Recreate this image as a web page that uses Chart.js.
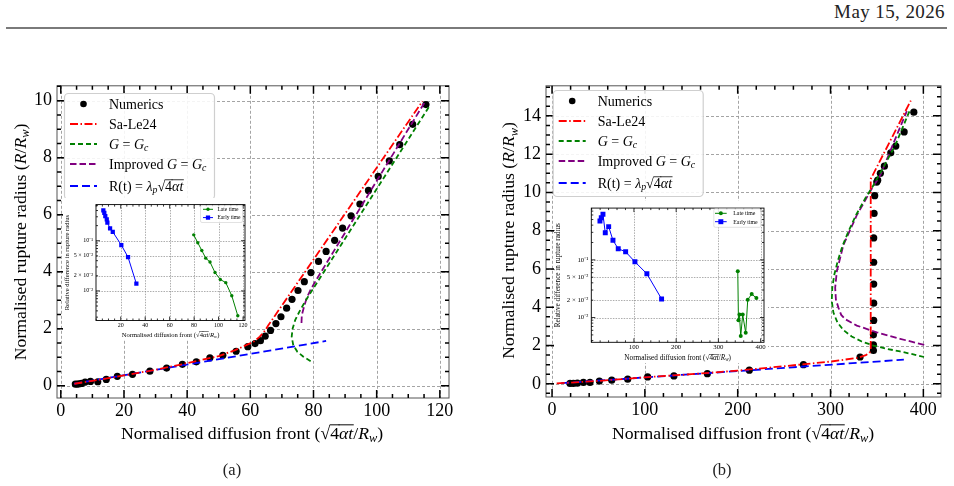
<!DOCTYPE html>
<html>
<head>
<meta charset="utf-8">
<script src="https://cdn.jsdelivr.net/npm/chart.js@4.4.1/dist/chart.umd.min.js"></script>
<style>
  body { margin: 0; background: #fff; width: 954px; height: 486px; position: relative; overflow: hidden; font-family: "Liberation Serif", serif; }
  canvas { position: absolute; }
  #hdr { position: absolute; right: 9px; top: 2px; font-size: 19px; line-height: 19px; letter-spacing: 0.4px; color: #222; }
  #rule { position: absolute; left: 6px; top: 27px; width: 941px; height: 1.5px; background: #7a7a7a; }
  .cap { position: absolute; top: 460px; font-size: 16.5px; color: #222; transform: translateX(-50%); }
  .inset { background: #fff; }
</style>
</head>
<body>
<div id="hdr">May 15, 2026</div>
<div id="rule"></div>
<canvas id="mainA" width="475" height="400" style="left:0;top:70px"></canvas>
<canvas id="mainB" width="474" height="400" style="left:480px;top:70px"></canvas>
<canvas id="insetA" class="inset" width="187" height="142" style="left:63px;top:198px"></canvas>
<canvas id="insetB" class="inset" width="214" height="162" style="left:554px;top:201px"></canvas>
<div class="cap" style="left:232px">(a)</div>
<div class="cap" style="left:722px">(b)</div>

<script>
// ---------- panel (a) ----------
var aNumX = [4.6, 5.3, 5.9, 6.6, 7.7, 9.4, 11.7, 14.4, 17.9, 22.7, 28.2, 33.5, 38.5, 42.9, 47.2, 51.3, 55.5, 59.2, 61.5, 63.2, 64.7, 66.4, 68.1, 69.7, 71.5, 73.2, 75.1, 77.1, 79.2, 81.6, 84.0, 86.7, 89.2, 91.9, 94.7, 97.4, 100.5, 104.0, 107.3, 111.4, 115.6];
var aNumY = [0.06, 0.06, 0.07, 0.08, 0.13, 0.15, 0.14, 0.22, 0.33, 0.40, 0.51, 0.62, 0.75, 0.84, 0.98, 1.07, 1.21, 1.37, 1.48, 1.58, 1.74, 1.94, 2.18, 2.42, 2.72, 3.03, 3.34, 3.65, 3.97, 4.36, 4.71, 5.10, 5.53, 5.96, 6.37, 6.85, 7.34, 7.89, 8.46, 9.17, 9.86];
var aSaleX = [4.3, 10, 20, 30, 40, 50, 55, 58, 61, 63, 64.6, 65.7, 114.5];
var aSaleY = [0.07, 0.17, 0.36, 0.56, 0.79, 1.04, 1.24, 1.39, 1.54, 1.72, 1.93, 2.12, 9.98];
var aGcX = [79.1, 76.8, 74.9, 73.6, 73.1, 73.4, 74.2, 75.5, 77.1, 78.9, 80.8, 116.8];
var aGcY = [0.86, 1.02, 1.19, 1.42, 1.72, 2.01, 2.30, 2.59, 2.91, 3.23, 3.56, 9.82];
var aImpX = [76.2, 76.3, 77.0, 77.8, 79.1, 80.8, 115.2];
var aImpY = [2.20, 2.47, 2.77, 3.06, 3.37, 3.70, 9.94];
var aLamX = [4.2, 84];
var aLamY = [0.07, 1.57];
var aXTicks = [0, 20, 40, 60, 80, 100, 120];
var aYTicks = [0, 2, 4, 6, 8, 10];

// inset (a): relative difference
var aEarlyX = [5.8, 6.6, 7.4, 8.6, 9.1, 11.3, 13.5, 20.5, 26.0, 32.8];
var aEarlyY = [0.405, 0.359, 0.309, 0.266, 0.229, 0.177, 0.150, 0.082, 0.047, 0.0139];
var aLateX = [79.7, 83.0, 86.3, 89.5, 93.0, 97.1, 101.4, 105.9, 110.8, 115.7];
var aLateY = [0.131, 0.0914, 0.0637, 0.045, 0.0376, 0.0232, 0.0169, 0.0146, 0.0080, 0.0032];
var aInXTicks = [20, 40, 60, 80, 100, 120];

// ---------- panel (b) ----------
var bNumX = [19.4, 23, 27.3, 33.8, 40.9, 51, 64.3, 81.5, 103, 131.3, 167.3, 212.5, 270.8, 331.8, 346.2, 346.2, 346.2, 346.5, 346.5, 346.5, 346.5, 346.5, 346.9, 347.6, 349.8, 350.8, 353.7, 358.0, 364.9, 370.3, 379.3, 389.7];
var bNumY = [0.02, 0.02, 0.03, 0.07, 0.07, 0.14, 0.19, 0.24, 0.36, 0.41, 0.53, 0.71, 1.00, 1.40, 1.74, 2.04, 2.56, 3.31, 4.21, 5.21, 6.35, 7.62, 8.90, 9.83, 10.54, 10.64, 11.0, 11.37, 12.07, 12.42, 13.16, 14.19];
var bSaleX = [5, 50, 100, 150, 200, 250, 300, 330, 338, 342, 343.3, 343.3, 386.5];
var bSaleY = [0.02, 0.15, 0.34, 0.5, 0.69, 0.92, 1.16, 1.36, 1.5, 1.62, 1.8, 10.7, 14.8];
var bGcX = [400.7, 389.2, 374.9, 360.5, 346.1, 333.6, 322.8, 313.8, 307.4, 303.1, 301.3, 301.9, 304.1, 307.7, 312.7, 319.2, 327.5, 337.2, 346.2, 356.9, 369.5, 385.5];
var bGcY = [1.40, 1.54, 1.69, 1.83, 2.0, 2.21, 2.47, 2.81, 3.21, 3.72, 4.33, 5.02, 5.71, 6.40, 7.18, 7.95, 8.82, 9.67, 10.37, 11.31, 12.44, 14.3];
var bImpX = [400.9, 375, 349.8, 328.3, 315.7, 311.5, 308.5, 305.8, 305, 306.8, 313.9, 328.3, 344.4, 353.4, 382.2];
var bImpY = [2.03, 2.35, 2.69, 3.04, 3.38, 3.6, 3.98, 4.4, 5.02, 5.88, 7.26, 8.81, 10.19, 10.88, 14.25];
var bLamX = [10, 379];
var bLamY = [0.033, 1.26];
var bXTicks = [0, 100, 200, 300, 400];
var bYTicks = [0, 2, 4, 6, 8, 10, 12, 14];

// inset (b)
var bEarlyX = [19.6, 22.7, 26.7, 32.2, 40.2, 50.4, 62.9, 80.4, 102.4, 130.7, 165.5];
var bEarlyY = [0.471, 0.536, 0.619, 0.294, 0.377, 0.218, 0.156, 0.138, 0.0925, 0.0573, 0.021];
var bLateX = [345.9, 347.5, 349.9, 352.9, 357.6, 364.7, 369.5, 378.9, 390.0];
var bLateY = [0.0634, 0.0090, 0.01125, 0.00476, 0.01125, 0.00542, 0.0204, 0.0255, 0.0218];
var bInXTicks = [100, 200, 300, 400];

// shared log ticks of the insets
var inYTicks = [0.01, 0.02, 0.05, 0.1];
var inYLabels = ['10⁻²', '2 × 10⁻²', '5 × 10⁻²', '10⁻¹'];

// labels (rich text pieces)
var seriesLabels = [
  [{t: 'Numerics'}],
  [{t: 'Sa-Le24'}],
  [{t: 'G', it: 1}, {t: ' = '}, {t: 'G', it: 1}, {t: 'c', it: 1, sub: 1}],
  [{t: 'Improved '}, {t: 'G', it: 1}, {t: ' = '}, {t: 'G', it: 1}, {t: 'c', it: 1, sub: 1}],
  [{t: 'R(t) = '}, {t: 'λ', it: 1}, {t: 'p', it: 1, sub: 1}, {t: '√'}, {t: '4', ol: 1}, {t: 'αt', it: 1, ol: 1}]
];
var xTitle = [{t: 'Normalised diffusion front ('}, {t: '√'}, {t: '4', ol: 1}, {t: 'αt', it: 1, ol: 1}, {t: '/'}, {t: 'R', it: 1}, {t: 'w', it: 1, sub: 1}, {t: ')'}];
var yTitle = [{t: 'Normalised rupture radius ('}, {t: 'R', it: 1}, {t: '/'}, {t: 'R', it: 1}, {t: 'w', it: 1, sub: 1}, {t: ')'}];
var inYTitle = [{t: 'Relative difference in rupture radius'}];
var inLabels = ['Late time', 'Early time'];

var FONT = '"Liberation Serif", "Times New Roman", serif';
var RED = '#ff0000', GREEN = '#008000', PURPLE = '#800080', BLUE = '#0000ff';
var styles = [
  {color: '#000', dot: true},
  {color: RED, dash: [8, 2.5, 1.5, 2.5]},
  {color: GREEN, dash: [5, 3]},
  {color: PURPLE, dash: [6.5, 3]},
  {color: BLUE, dash: [8, 4]}
];

function pts(xs, ys) {
  return xs.map(function (x, i) { return {x: x, y: ys[i]}; });
}

// rich text: italics, subscripts, overline for square roots
function drawRich(ctx, segs, x, y, size, align) {
  var parts = [], w = 0;
  segs.forEach(function (s) {
    var fs = s.sub ? size * 0.7 : size;
    ctx.font = (s.it ? 'italic ' : '') + fs + 'px ' + FONT;
    var m = ctx.measureText(s.t).width;
    parts.push({s: s, fs: fs, m: m});
    w += m;
  });
  var cx = align === 'center' ? x - w / 2 : (align === 'right' ? x - w : x);
  ctx.textAlign = 'left';
  ctx.textBaseline = 'alphabetic';
  parts.forEach(function (p) {
    ctx.font = (p.s.it ? 'italic ' : '') + p.fs + 'px ' + FONT;
    ctx.fillText(p.s.t, cx, y + (p.s.sub ? size * 0.2 : 0));
    if (p.s.ol) ctx.fillRect(cx - 0.5, y - size * 0.8, p.m + 1, Math.max(0.5, size * 0.055));
    cx += p.m;
  });
}

function minorValues(min, max, step) {
  var out = [];
  for (var n = Math.ceil(min / step - 1e-9); n * step <= max + 1e-9; n++) out.push(n * step);
  return out;
}

function isMajor(v, majors) {
  return majors.some(function (m) { return Math.abs(m - v) < 1e-9 * Math.max(1, Math.abs(m)); });
}

// grid, frame, inward ticks, legend and axis titles
function framePlugin(cfg) {
  return {
    id: 'frame',
    beforeDatasetsDraw: function (chart) {
      var ctx = chart.ctx, a = chart.chartArea, x = chart.scales.x, y = chart.scales.y;
      ctx.save();
      ctx.strokeStyle = cfg.gridColor;
      ctx.lineWidth = cfg.gridWidth;
      ctx.setLineDash(cfg.gridDash);
      cfg.xGrid.forEach(function (v) {
        var px = Math.round(x.getPixelForValue(v)) + 0.5;
        ctx.beginPath(); ctx.moveTo(px, a.top); ctx.lineTo(px, a.bottom); ctx.stroke();
      });
      cfg.yGrid.forEach(function (v) {
        var py = Math.round(y.getPixelForValue(v)) + 0.5;
        ctx.beginPath(); ctx.moveTo(a.left, py); ctx.lineTo(a.right, py); ctx.stroke();
      });
      ctx.restore();
    },
    afterDatasetsDraw: function (chart) {
      var ctx = chart.ctx, a = chart.chartArea, x = chart.scales.x, y = chart.scales.y;
      ctx.save();
      ctx.strokeStyle = cfg.frameColor;
      ctx.lineWidth = cfg.frameWidth;
      ctx.strokeRect(a.left, a.top, a.right - a.left, a.bottom - a.top);
      ctx.strokeStyle = '#000';
      ctx.lineWidth = cfg.tickWidth;
      minorValues(x.min, x.max, cfg.xMinor).forEach(function (v) {
        var len = isMajor(v, cfg.xMajor) ? cfg.majLen : cfg.minLen;
        var px = x.getPixelForValue(v);
        ctx.beginPath();
        ctx.moveTo(px, a.bottom); ctx.lineTo(px, a.bottom - len);
        ctx.moveTo(px, a.top); ctx.lineTo(px, a.top + len);
        ctx.stroke();
      });
      var yv;
      if (cfg.yLog) {
        yv = [];
        for (var k = -4; k <= 0; k++) for (var m = 1; m <= 9; m++) {
          var v = m * Math.pow(10, k);
          if (v >= y.min && v <= y.max) yv.push({v: v, major: m === 1});
        }
      } else {
        yv = minorValues(y.min, y.max, cfg.yMinor).map(function (v) { return {v: v, major: isMajor(v, cfg.yMajor)}; });
      }
      yv.forEach(function (o) {
        var len = o.major ? cfg.majLen : cfg.minLen;
        var py = y.getPixelForValue(o.v);
        ctx.beginPath();
        ctx.moveTo(a.left, py); ctx.lineTo(a.left + len, py);
        ctx.moveTo(a.right, py); ctx.lineTo(a.right - len, py);
        ctx.stroke();
      });
      ctx.restore();
    },
    afterDraw: function (chart) {
      var ctx = chart.ctx, a = chart.chartArea;
      ctx.save();
      ctx.fillStyle = '#000';
      // axis titles
      drawRich(ctx, cfg.xTitle, (a.left + a.right) / 2 + cfg.xTitleDx, cfg.xTitleY, cfg.titleSize, 'center');
      ctx.save();
      ctx.translate(cfg.yTitleX, (a.top + a.bottom) / 2 + cfg.yTitleDy);
      ctx.rotate(-Math.PI / 2);
      drawRich(ctx, cfg.yTitle, 0, 0, cfg.yTitleSize || cfg.titleSize, 'center');
      ctx.restore();
      // legend
      var lg = cfg.legend;
      ctx.beginPath();
      ctx.roundRect(lg.x + 0.5, lg.y + 0.5, lg.w, lg.h, lg.r);
      ctx.fillStyle = 'rgba(255,255,255,0.88)';
      ctx.fill();
      ctx.strokeStyle = '#cfcfcf';
      ctx.lineWidth = lg.lw;
      ctx.stroke();
      lg.items.forEach(function (it, i) {
        var yy = lg.y + lg.rows[i];
        ctx.strokeStyle = it.color;
        ctx.fillStyle = it.color;
        if (it.dash || it.line) {
          ctx.lineWidth = lg.lineW;
          ctx.setLineDash(it.dash || []);
          ctx.beginPath(); ctx.moveTo(lg.x + lg.s0, yy); ctx.lineTo(lg.x + lg.s1, yy); ctx.stroke();
          ctx.setLineDash([]);
        }
        var mx = lg.x + (lg.s0 + lg.s1) / 2;
        if (it.dot) {
          ctx.beginPath(); ctx.arc(mx, yy, lg.dotR, 0, Math.PI * 2); ctx.fill();
        }
        if (it.square) {
          ctx.fillRect(mx - lg.sq / 2, yy - lg.sq / 2, lg.sq, lg.sq);
        }
        ctx.fillStyle = '#000';
        drawRich(ctx, it.text, lg.x + lg.tx, yy + lg.size * 0.33, lg.size, 'left');
      });
      ctx.restore();
    }
  };
}

function lineSet(label, xs, ys, st) {
  return {
    label: label, data: pts(xs, ys), showLine: true, borderColor: st.color, backgroundColor: st.color,
    borderWidth: 1.8, borderDash: st.dash, pointRadius: 0, tension: 0, order: 1
  };
}

function axisOpts(min, max, ticks, fit, font, pad, type, labels) {
  return {
    type: type || 'linear', min: min, max: max,
    afterBuildTicks: function (ax) { ax.ticks = ticks.map(function (v) { return {value: v}; }); },
    afterFit: function (ax) { if (fit.w) ax.width = fit.w; if (fit.h) ax.height = fit.h; },
    grid: {display: false, drawTicks: false},
    border: {display: false},
    ticks: {
      color: '#000', font: {family: FONT, size: font}, padding: pad, autoSkip: false, maxRotation: 0,
      callback: function (v) { return labels ? labels[ticks.indexOf(v)] : String(v); }
    }
  };
}

function makeMain(id, d) {
  var names = ['Numerics', 'Sa-Le24', 'G = Gc', 'Improved G = Gc', 'R(t) = λp √4αt'];
  new Chart(document.getElementById(id), {
    type: 'scatter',
    data: {
      datasets: [
        {label: names[0], data: pts(d.numX, d.numY), pointRadius: 3.6, pointBackgroundColor: '#000', pointBorderWidth: 0, order: 5},
        lineSet(names[1], d.saleX, d.saleY, styles[1]),
        lineSet(names[2], d.gcX, d.gcY, styles[2]),
        lineSet(names[3], d.impX, d.impY, styles[3]),
        lineSet(names[4], d.lamX, d.lamY, styles[4])
      ]
    },
    options: {
      responsive: false, animation: false, events: [],
      layout: {padding: d.pad},
      plugins: {legend: {display: false}, tooltip: {enabled: false}},
      scales: {
        x: axisOpts(d.xr[0], d.xr[1], d.xTicks, {h: d.xH}, 18, 2),
        y: axisOpts(d.yr[0], d.yr[1], d.yTicks, {w: d.yW}, 18, 5)
      }
    },
    plugins: [framePlugin({
      gridColor: '#9a9a9a', gridWidth: 0.9, gridDash: [3, 2],
      xGrid: d.xTicks, yGrid: d.yTicks, xMajor: d.xTicks, yMajor: d.yTicks,
      xMinor: d.xMinor, yMinor: d.yMinor,
      frameColor: '#555', frameWidth: 1, tickWidth: 1.5, majLen: 8, minLen: 4,
      xTitle: xTitle, yTitle: yTitle, titleSize: 17.7,
      xTitleDx: d.xTitleDx, xTitleY: d.xTitleY, yTitleX: d.yTitleX, yTitleDy: d.yTitleDy,
      legend: {
        x: d.lgX, y: d.lgY, w: 150, h: 106, r: 4, lw: 1.2, rows: [11, 31, 51, 71, 93],
        s0: 6, s1: 33, tx: 45, size: 14, lineW: 1.8, dotR: 3.3,
        items: seriesLabels.map(function (t, i) {
          return {text: t, color: styles[i].color, dash: styles[i].dash, dot: styles[i].dot};
        })
      }
    })]
  });
}

function makeInset(id, d) {
  new Chart(document.getElementById(id), {
    type: 'scatter',
    data: {
      datasets: [
        {label: inLabels[0], data: pts(d.lateX, d.lateY), showLine: true, borderColor: GREEN, backgroundColor: GREEN,
          borderWidth: 1, pointRadius: d.dotR, pointBorderWidth: 0, pointStyle: 'circle', tension: 0},
        {label: inLabels[1], data: pts(d.earlyX, d.earlyY), showLine: true, borderColor: BLUE, backgroundColor: BLUE,
          borderWidth: 1, pointRadius: d.sqR, pointBorderWidth: 0, pointStyle: 'rect', tension: 0}
      ]
    },
    options: {
      responsive: false, animation: false, events: [],
      layout: {padding: d.pad},
      plugins: {legend: {display: false}, tooltip: {enabled: false}},
      scales: {
        x: axisOpts(d.xr[0], d.xr[1], d.xTicks, {h: d.xH}, d.tickSize, 1),
        y: axisOpts(d.yr[0], d.yr[1], inYTicks, {w: d.yW}, d.tickSize, 3, 'logarithmic', inYLabels)
      }
    },
    plugins: [framePlugin({
      gridColor: '#8a8a8a', gridWidth: 0.7, gridDash: [1.5, 1.2],
      xGrid: d.xTicks, yGrid: inYTicks, xMajor: d.xTicks, yMajor: [],
      xMinor: d.xMinor, yLog: true,
      frameColor: '#000', frameWidth: 0.9, tickWidth: 0.8, majLen: 4, minLen: 2,
      xTitle: xTitle, yTitle: inYTitle, titleSize: d.titleSize, yTitleSize: d.titleSize,
      xTitleDx: 0, xTitleY: d.xTitleY, yTitleX: d.yTitleX, yTitleDy: 0,
      legend: {
        x: d.lgX, y: d.lgY, w: d.lgW, h: d.lgH, r: 1.5, lw: 0.6, rows: d.lgRows,
        s0: d.lgS0, s1: d.lgS1, tx: d.lgTx, size: d.lgSize, lineW: 1, dotR: d.dotR, sq: d.sqR * 1.414,
        items: [
          {text: [{t: inLabels[0]}], color: GREEN, line: true, dot: true},
          {text: [{t: inLabels[1]}], color: BLUE, line: true, square: true}
        ]
      }
    })]
  });
}

makeMain('mainA', {
  numX: aNumX, numY: aNumY, saleX: aSaleX, saleY: aSaleY, gcX: aGcX, gcY: aGcY,
  impX: aImpX, impY: aImpY, lamX: aLamX, lamY: aLamY,
  xTicks: aXTicks, yTicks: aYTicks, xMinor: 5, yMinor: 0.5,
  xr: [-1.2, 122.9], yr: [-0.43, 10.52],
  pad: {top: 15, right: 26, left: 0, bottom: 0}, xH: 72, yW: 57,
  xTitleDx: -1, xTitleY: 368.5, yTitleX: 25.5, yTitleDy: 0,
  lgX: 64, lgY: 23
});

makeMain('mainB', {
  numX: bNumX, numY: bNumY, saleX: bSaleX, saleY: bSaleY, gcX: bGcX, gcY: bGcY,
  impX: bImpX, impY: bImpY, lamX: bLamX, lamY: bLamY,
  xTicks: bXTicks, yTicks: bYTicks, xMinor: 20, yMinor: 0.5,
  xr: [-6.5, 419], yr: [-0.69, 15.57],
  pad: {top: 12.7, right: 13, left: 0, bottom: 0}, xH: 73, yW: 66,
  xTitleDx: -0.5, xTitleY: 368.5, yTitleX: 34, yTitleDy: -1,
  lgX: 72.7, lgY: 20
});

makeInset('insetA', {
  lateX: aLateX, lateY: aLateY, earlyX: aEarlyX, earlyY: aEarlyY,
  xTicks: aInXTicks, xMinor: 5, xr: [-0.2, 121.6], yr: [0.00257, 0.525],
  pad: {top: 4.3, right: 5, left: 0, bottom: 0}, xH: 19.5, yW: 33,
  tickSize: 6, titleSize: 6.6, xTitleY: 138.5, yTitleX: 5.7,
  dotR: 1.7, sqR: 3,
  lgX: 137, lgY: 7, lgW: 42, lgH: 17, lgRows: [4.3, 12.6], lgS0: 3, lgS1: 13, lgTx: 17.5, lgSize: 5.5
});

makeInset('insetB', {
  lateX: bLateX, lateY: bLateY, earlyX: bEarlyX, earlyY: bEarlyY,
  xTicks: bInXTicks, xMinor: 20, xr: [-0.9, 408], yr: [0.00372, 0.79],
  pad: {top: 4, right: 3.7, left: 0, bottom: 0}, xH: 20.7, yW: 37.3,
  tickSize: 6.8, titleSize: 7.2, xTitleY: 158.8, yTitleX: 5.8,
  dotR: 2, sqR: 3.5,
  lgX: 159.3, lgY: 7.3, lgW: 47, lgH: 18.5, lgRows: [5, 13.4], lgS0: 1.7, lgS1: 13.4, lgTx: 20, lgSize: 5.8
});
</script>
</body>
</html>
